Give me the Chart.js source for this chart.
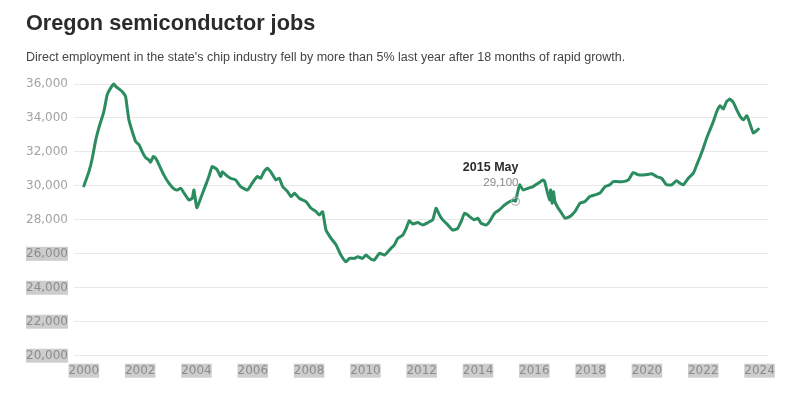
<!DOCTYPE html>
<html>
<head>
<meta charset="utf-8">
<script src="https://cdn.jsdelivr.net/npm/chart.js"></script>
<style>
  html, body { margin: 0; padding: 0; background: #fff; }
  #wrap { position: relative; width: 801px; height: 395px; overflow: hidden; }
  #title { position: absolute; left: 26px; top: 12px; font: bold 21.7px "Liberation Sans", Arial, sans-serif; line-height: 1; color: #2b2b2b; white-space: nowrap; }
  #sub { position: absolute; left: 26px; top: 51px; font: 12.5px "Liberation Sans", Arial, sans-serif; line-height: 1; color: #444; white-space: nowrap; }
  canvas { position: absolute; left: 0; top: 0; }
</style>
</head>
<body>
<div id="wrap">
  <canvas id="c" width="801" height="395"></canvas>
  <div id="title">Oregon semiconductor jobs</div>
  <div id="sub">Direct employment in the state's chip industry fell by more than 5% last year after 18 months of rapid growth.</div>
</div>
<script>
// Data (decimal year, jobs)
const years = [
  2000.00,2000.18,2000.30,2000.41,2000.53,2000.71,2000.83,2000.95,2001.07,2001.13,2001.24,2001.36,2001.48,2001.54,2001.60,2001.72,2001.84,2001.96,
  2002.07,2002.19,2002.31,2002.37,2002.47,2002.55,2002.67,2002.84,2003.02,2003.20,2003.32,2003.44,2003.56,2003.73,2003.85,2003.91,
  2004.01,2004.15,2004.33,2004.44,2004.56,2004.74,2004.86,2004.92,2005.04,2005.21,2005.39,2005.57,2005.81,2005.98,2006.16,2006.28,2006.40,2006.52,2006.64,
  2006.82,2006.94,2007.06,2007.24,2007.36,2007.48,2007.65,2007.89,
  2008.07,2008.25,2008.36,2008.48,2008.60,2008.78,2008.96,2009.13,2009.31,2009.43,2009.61,2009.73,2009.90,2010.02,2010.20,2010.32,2010.50,2010.68,2010.85,
  2011.03,2011.15,2011.33,2011.45,2011.56,2011.68,2011.86,
  2012.04,2012.22,2012.39,2012.51,2012.63,2012.75,2012.93,2013.10,2013.28,2013.40,2013.52,2013.64,2013.70,2013.87,2013.99,2014.11,2014.29,2014.41,2014.59,2014.76,2014.95,
  2015.13,2015.25,2015.33,2015.40,2015.48,2015.60,2015.78,2015.96,
  2016.14,2016.31,2016.37,2016.47,2016.55,2016.58,2016.63,2016.68,2016.73,2016.85,2016.97,2017.09,2017.26,2017.44,2017.62,2017.80,2017.97,
  2018.15,2018.33,2018.51,2018.68,2018.80,2018.98,2019.16,2019.34,2019.51,2019.69,
  2019.93,2020.17,2020.34,2020.52,2020.70,2020.88,2021.05,2021.17,2021.29,2021.47,2021.65,2021.77,2021.89,2022.00,2022.12,2022.24,2022.36,2022.48,2022.60,2022.71,2022.83,2022.95,
  2023.07,2023.19,2023.31,2023.43,2023.55,2023.67,2023.78,2023.90,2023.96
];
const jobs = [
  30000,30840,31630,32610,33400,34380,35370,35760,36000,35860,35720,35560,35270,34580,33890,33200,32610,32420,
  32020,31670,31530,31400,31730,31630,31240,30650,30160,29820,29760,29860,29570,29170,29270,29760,
  28720,29270,30060,30550,31140,30940,30550,30840,30650,30450,30350,29960,29760,30160,30550,30450,30840,31040,30820,
  30350,30450,29960,29660,29370,29570,29270,29070,
  28680,28480,28290,28480,27400,26910,26520,25930,25530,25730,25730,25830,25730,25930,25680,25640,26030,25930,26220,
  26520,26910,27110,27500,27950,27760,27840,
  27700,27840,28000,28680,28290,28000,27700,27400,27500,27900,28390,28290,28190,28000,28100,27800,27700,27900,28390,28590,28880,
  29080,29150,29100,29570,30060,29760,29860,29960,
  30160,30350,30250,29570,29170,29760,28980,29660,29080,28680,28390,28100,28190,28480,28980,29080,29370,
  29470,29570,29960,30060,30250,30250,30250,30350,30780,30650,
  30650,30710,30550,30450,30060,30060,30310,30160,30060,30450,30750,31240,31730,32220,32810,33300,33790,34380,34720,34520,34970,35110,
  34910,34480,34090,33890,34130,33600,33110,33260,33340
];
const xTickYears = [2000,2002,2004,2006,2008,2010,2012,2014,2016,2018,2020,2022,2024];
const yTickValues = [20000,22000,24000,26000,28000,30000,32000,34000,36000];
const annotationLabel = "2015 May";
const annotationYear = 2015.33;
const annotationValue = 29100;

const points = years.map((x, i) => ({x: x, y: jobs[i]}));

const annotationPlugin = {
  id: 'annot',
  afterDatasetsDraw(chart) {
    const ctx = chart.ctx;
    const xs = chart.scales.x, ys = chart.scales.y;
    const px = xs.getPixelForValue(annotationYear);
    const py = ys.getPixelForValue(annotationValue);
    ctx.save();
    ctx.beginPath();
    ctx.arc(px, py, 4, 0, Math.PI * 2);
    ctx.strokeStyle = 'rgba(170,170,170,0.9)';
    ctx.lineWidth = 1.2;
    ctx.stroke();
    ctx.textAlign = 'right';
    ctx.textBaseline = 'alphabetic';
    ctx.fillStyle = '#2b2b2b';
    ctx.font = 'bold 12.5px "Liberation Sans", Arial, sans-serif';
    ctx.fillText(annotationLabel, px + 3, py - 30);
    ctx.fillStyle = '#8a8a8a';
    ctx.font = '11.5px "Liberation Sans", Arial, sans-serif';
    ctx.fillText(annotationValue.toLocaleString('en-US'), px + 3, py - 15);
    ctx.restore();
  }
};

new Chart(document.getElementById('c'), {
  type: 'line',
  data: {
    datasets: [{
      data: points,
      borderColor: '#2a8c5f',
      borderWidth: 3,
      pointRadius: 0,
      tension: 0.15,
      borderJoinStyle: 'round',
      borderCapStyle: 'round',
      clip: false
    }]
  },
  options: {
    responsive: false,
    animation: false,
    layout: { padding: { left: 20, right: 33, top: 84, bottom: 9.3 } },
    plugins: { legend: { display: false }, tooltip: { enabled: false } },
    scales: {
      x: {
        type: 'linear',
        min: 1999.65,
        max: 2024.3,
        grid: { display: false, drawTicks: false },
        border: { display: false },
        afterBuildTicks(scale) { scale.ticks = xTickYears.map(v => ({value: v})); },
        afterFit(scale) { scale.height = 30; },
        ticks: {
          autoSkip: false,
          maxRotation: 0,
          padding: 9,
          color: '#8c8c8c',
          font: { family: '"DejaVu Sans", sans-serif', size: 12, lineHeight: 1.0 },
          showLabelBackdrop: true,
          backdropColor: '#cdcdcd',
          backdropPadding: { top: 1, bottom: 1, left: 0, right: 0 },
          callback: v => String(v)
        }
      },
      y: {
        min: 20000,
        max: 36000,
        grid: { color: '#e8e8e8', lineWidth: 1, drawTicks: false },
        border: { display: false },
        afterBuildTicks(scale) { scale.ticks = yTickValues.map(v => ({value: v})); },
        afterFit(scale) { scale.width = 54; },
        ticks: {
          padding: 6,
          color: ctx => ctx.tick && ctx.tick.value <= 26000 ? '#8c8c8c' : '#a3a3a3',
          font: { family: '"DejaVu Sans", sans-serif', size: 12, lineHeight: 1.0 },
          showLabelBackdrop: true,
          backdropColor: ctx => ctx.tick && ctx.tick.value <= 26000 ? '#cdcdcd' : 'rgba(255,255,255,0)',
          backdropPadding: { top: 1, bottom: 1, left: 0, right: 0 },
          callback: v => Number(v).toLocaleString('en-US')
        }
      }
    }
  },
  plugins: [annotationPlugin]
});
</script>
</body>
</html>
